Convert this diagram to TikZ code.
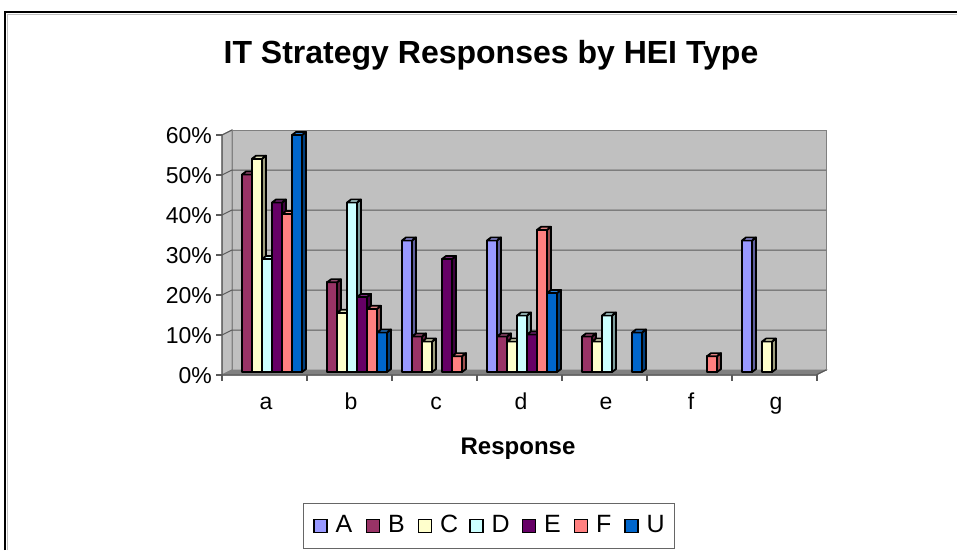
\documentclass[tikz,border=0pt]{standalone}
\usepackage{fontspec}
\setmainfont{Liberation Sans}
\definecolor{cA}{HTML}{9999FF}
\definecolor{cB}{HTML}{993366}
\definecolor{cC}{HTML}{FFFFCC}
\definecolor{cD}{HTML}{CCFFFF}
\definecolor{cE}{HTML}{660066}
\definecolor{cF}{HTML}{FF8080}
\definecolor{cU}{HTML}{0066CC}
\definecolor{wallgrey}{HTML}{C0C0C0}
\definecolor{floorgrey}{HTML}{808080}
\definecolor{gridgrey}{HTML}{5A5A5A}
\newcommand\chartbar[3]{%
  \pgfmathsetmacro\bx{#1}%
  \pgfmathsetmacro\bt{372-3.95*#2}%
  \draw[barline, fill=#3] (\bx,372) rectangle (\bx+10,\bt);
  \draw[barline, fill=#3!62!black] (\bx+10,372) -- (\bx+14,369) -- (\bx+14,\bt-3) -- (\bx+10,\bt) -- cycle;
  \draw[barline, fill=#3!85!white] (\bx,\bt) -- (\bx+4,\bt-3) -- (\bx+14,\bt-3) -- (\bx+10,\bt) -- cycle;
}
\begin{document}
\begin{tikzpicture}[x=1pt,y=-1pt,
  barline/.style={draw=black, line width=1.8pt, line join=round},
  ticklabel/.style={anchor=east, inner sep=0pt, font=\fontsize{23}{23}\selectfont},
  catlabel/.style={anchor=base, inner sep=0pt, font=\fontsize{23}{23}\selectfont},
  legsq/.style={draw=black, line width=1.4pt, minimum size=13pt, inner sep=0pt},
  legtext/.style={anchor=west, inner sep=0pt, font=\fontsize{25}{25}\selectfont},
  gridline/.style={draw=gridgrey, line width=1pt}]
\useasboundingbox (0,0) rectangle (957,550);
\fill[white] (0,0) rectangle (957,550);
% outer frame
\draw[gray!50, line width=1pt] (7,550) -- (7,14.5) -- (957,14.5);
\draw[black, line width=2.5pt] (5,550) -- (5,12) -- (957,12);
% title
\node[inner sep=0pt, font=\bfseries\fontsize{32}{32}\selectfont] (title) at (491,55) {IT Strategy Responses by HEI Type};
% walls and floor
\filldraw[fill=wallgrey, draw=floorgrey, line width=1pt] (232,130) rectangle (826,370);
\filldraw[fill=wallgrey, draw=floorgrey, line width=1pt] (222,135) -- (232,130) -- (232,370) -- (222,375) -- cycle;
\filldraw[fill=floorgrey, draw=floorgrey, line width=1pt] (222,375) -- (232,370) -- (826,370) -- (816,375) -- cycle;
\foreach \k in {1,...,5} {
  \draw[gridline] (222,375-40*\k) -- (232,370-40*\k) -- (826,370-40*\k);
}
\draw[gridline] (222,135) -- (232,130);
% axes
\draw[gridgrey, line width=1.2pt] (222,135) -- (222,375) -- (816,375) -- (826,370);
\foreach \k/\t in {0/0\%,1/10\%,2/20\%,3/30\%,4/40\%,5/50\%,6/60\%} {
  \draw[gridgrey, line width=1.2pt] (216,375-40*\k) -- (222,375-40*\k);
  \node[ticklabel] (tick\k) at (212,376-40*\k) {\t};
}
\foreach \k in {0,...,7} {
  \draw[gridgrey, line width=1.2pt] (222+85*\k,375) -- (222+85*\k,381);
}
% bars
\foreach \k/\bars in {
  0/{1/cB/50,2/cC/54,3/cD/28.6,4/cE/42.9,5/cF/40,6/cU/60},
  1/{1/cB/22.7,2/cC/15,3/cD/42.9,4/cE/19,5/cF/16,6/cU/10},
  2/{0/cA/33.3,1/cB/9,2/cC/7.7,4/cE/28.6,5/cF/4},
  3/{0/cA/33.3,1/cB/9,2/cC/7.7,3/cD/14.3,4/cE/9.5,5/cF/36,6/cU/20},
  4/{1/cB/9,2/cC/7.7,3/cD/14.3,6/cU/10},
  5/{5/cF/4},
  6/{0/cA/33.3,2/cC/7.7}} {
  \foreach \i/\c/\v in \bars {
    \chartbar{232+85*\k+10*\i}{\v}{\c}
  }
}
% category labels
\foreach \n [count=\j from 0] in {a,b,c,d,e,f,g} {
  \node[catlabel] (cat\n) at (266+85*\j,409) {\n};
}
\node[inner sep=0pt, font=\bfseries\fontsize{24}{24}\selectfont] (xlabel) at (518,449) {Response};
% legend
\node[draw=gray!80!black, line width=1pt, minimum width=371pt, minimum height=45pt, inner sep=0pt] (legend) at (488.5,525.5) {};
\foreach \n/\c/\x in {A/cA/320.5, B/cB/373, C/cC/425, D/cD/476.5, E/cE/529, F/cF/581, U/cU/631.5} {
  \node[legsq, fill=\c] (sq\n) at (\x,526) {};
  \node[legtext] (leg\n) at (\x+15,524) {\n};
}
\end{tikzpicture}
\end{document}
